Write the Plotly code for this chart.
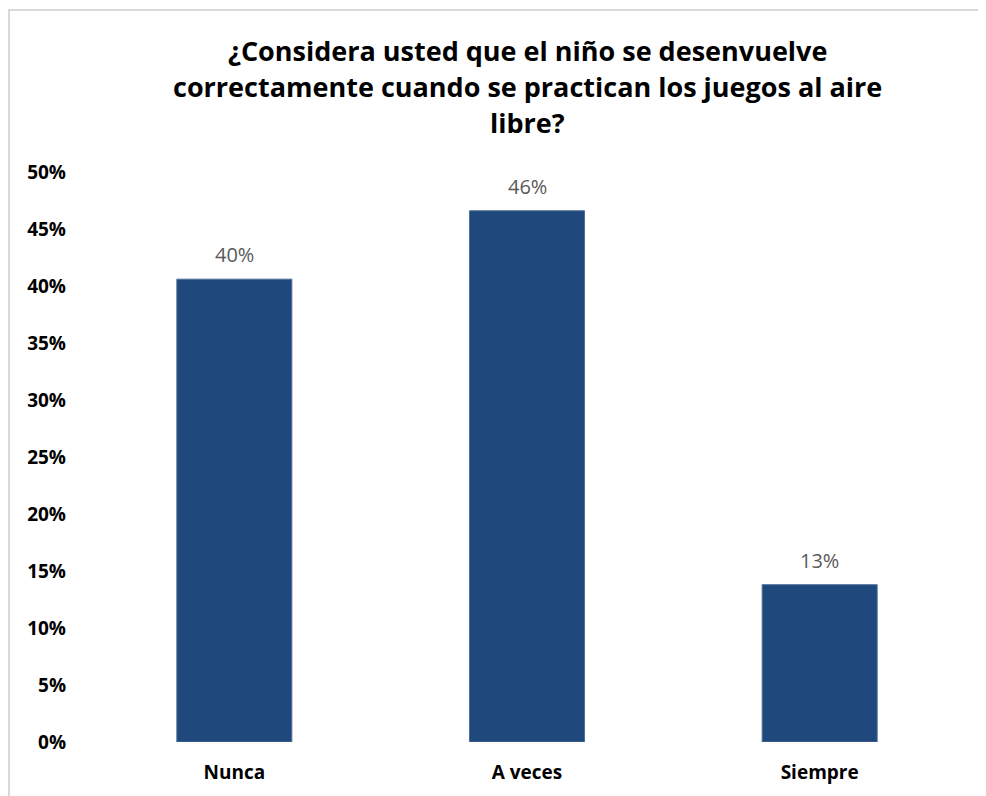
import plotly.graph_objects as go

categories = ["Nunca", "A veces", "Siempre"]
values = [0.406, 0.466, 0.138]
value_labels = ["40%", "46%", "13%"]
y_ticks = [0, 0.05, 0.10, 0.15, 0.20, 0.25, 0.30, 0.35, 0.40, 0.45, 0.50]
y_tick_labels = ["0%", "5%", "10%", "15%", "20%", "25%", "30%", "35%", "40%", "45%", "50%"]
title_lines = [
    "¿Considera usted que el niño se desenvuelve",
    "correctamente cuando se practican los juegos al aire",
    "libre?",
]

BAR = "#1F497D"
FONT = "Open Sans"

fig = go.Figure()
fig.add_trace(go.Bar(
    x=categories, y=values, width=0.393,
    marker=dict(color=BAR, line=dict(color="#4F6F9A", width=1)),
    hoverinfo="skip",
))

for c, v, t in zip(categories, values, value_labels):
    fig.add_annotation(x=c, y=v, text=t, showarrow=False, xref="x", yref="y",
                       yanchor="bottom", yshift=9,
                       font=dict(family=FONT, size=20, color="#595959"))

title_y_px = [50, 87, 123]
for line, ypx in zip(title_lines, title_y_px):
    fig.add_annotation(x=0.5, y=(742 - ypx) / 570, xref="paper", yref="paper",
                       text="<b>" + line + "</b>", showarrow=False,
                       xanchor="center", yanchor="middle",
                       font=dict(family=FONT, size=27, color="#000000"))

# outer chart border (light gray)
fig.add_shape(type="rect", xref="paper", yref="paper",
              x0=(9 - 88) / 878, x1=(1010 - 88) / 878,
              y0=(742 - 820) / 570, y1=(742 - 10) / 570,
              line=dict(color="#D9D9D9", width=2), fillcolor="rgba(0,0,0,0)")

fig.update_layout(
    width=986, height=796,
    margin=dict(l=80, r=28, t=164, b=62),
    paper_bgcolor="white", plot_bgcolor="white",
    showlegend=False,
)
fig.update_xaxes(showgrid=False, showline=False, zeroline=False, ticks="",
                 tickfont=dict(family=FONT, size=19, color="#000000", weight="bold"),
                 ticklabelstandoff=17, fixedrange=True)
fig.update_yaxes(range=[0, 0.5], tickvals=y_ticks, ticktext=y_tick_labels,
                 showgrid=False, showline=False, zeroline=False, ticks="",
                 tickfont=dict(family=FONT, size=19, color="#000000", weight="bold"),
                 ticklabelstandoff=21, fixedrange=True)

fig.write_html("out.html")
